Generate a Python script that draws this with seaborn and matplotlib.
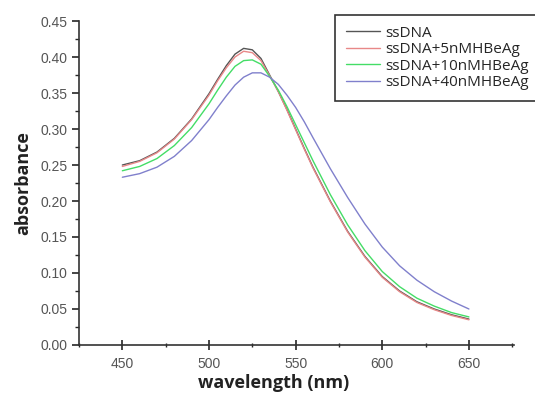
import numpy as np
import pandas as pd
import matplotlib
matplotlib.use("Agg")
import matplotlib.pyplot as plt
from matplotlib.ticker import MultipleLocator, FormatStrFormatter
import seaborn as sns

# -----------------------------
# Data
# -----------------------------

wavelength = [450, 460, 470, 480, 490, 500, 505, 510, 515, 520, 525, 530, 535,
              540, 545, 550, 555, 560, 570, 580, 590, 600, 610, 620, 630, 640, 650]

ssdna = [0.250, 0.256, 0.268, 0.287, 0.314, 0.349, 0.369, 0.388, 0.404, 0.412, 0.410,
         0.398, 0.375, 0.352, 0.327, 0.300, 0.273, 0.247, 0.200, 0.158, 0.123, 0.095,
         0.075, 0.060, 0.050, 0.042, 0.036]
ssdna_5 = [0.248, 0.255, 0.267, 0.286, 0.313, 0.347, 0.367, 0.385, 0.400, 0.408, 0.406,
           0.395, 0.374, 0.352, 0.326, 0.299, 0.272, 0.246, 0.199, 0.157, 0.122, 0.094,
           0.074, 0.059, 0.049, 0.041, 0.035]
ssdna_10 = [0.242, 0.248, 0.259, 0.277, 0.302, 0.335, 0.354, 0.372, 0.387, 0.395, 0.396,
            0.390, 0.373, 0.354, 0.331, 0.306, 0.281, 0.256, 0.209, 0.167, 0.131, 0.102,
            0.081, 0.065, 0.054, 0.045, 0.039]
ssdna_40 = [0.233, 0.238, 0.247, 0.262, 0.284, 0.313, 0.330, 0.346, 0.361, 0.372, 0.378,
            0.378, 0.372, 0.362, 0.347, 0.330, 0.310, 0.288, 0.245, 0.205, 0.168, 0.136,
            0.110, 0.090, 0.074, 0.061, 0.050]

labels = ["ssDNA", "ssDNA+5nMHBeAg", "ssDNA+10nMHBeAg", "ssDNA+40nMHBeAg"]
colors = ["#555555", "#e88888", "#44dd66", "#8080cc"]

df = pd.DataFrame({
    "wavelength": wavelength * 4,
    "absorbance": ssdna + ssdna_5 + ssdna_10 + ssdna_40,
    "sample": np.repeat(labels, len(wavelength)),
})

# -----------------------------
# Plot
# -----------------------------

sns.set_style("ticks")
plt.rcParams["font.family"] = ["Liberation Sans", "DejaVu Sans"]

fig = plt.figure(figsize=(5.35, 3.95), dpi=100)
ax = fig.add_axes([0.1477, 0.1266, 0.8130, 0.8202])

sns.lineplot(data=df, x="wavelength", y="absorbance", hue="sample",
             palette=colors, linewidth=1.0, ax=ax)

ax.set_xlim(425, 676)
ax.set_ylim(0, 0.45)
ax.xaxis.set_major_locator(MultipleLocator(50))
ax.xaxis.set_minor_locator(MultipleLocator(25))
ax.yaxis.set_major_locator(MultipleLocator(0.05))
ax.yaxis.set_minor_locator(MultipleLocator(0.025))
ax.yaxis.set_major_formatter(FormatStrFormatter("%.2f"))

ax.tick_params(axis="x", which="major", direction="inout", length=7, width=1.2,
               labelsize=10, labelcolor="#555555", pad=5)
ax.tick_params(axis="x", which="minor", direction="inout", length=3, width=1.0)
ax.tick_params(axis="y", which="major", direction="out", length=5, width=1.2,
               labelsize=10, labelcolor="#555555")
ax.tick_params(axis="y", which="minor", direction="out", length=3, width=1.0)

for side in ["top", "right"]:
    ax.spines[side].set_visible(False)
for side in ["left", "bottom"]:
    ax.spines[side].set_linewidth(1.2)
    ax.spines[side].set_color("#333333")

ax.set_xlabel("wavelength (nm)", fontsize=13, fontweight="bold",
              family="Open Sans", color="#222222")
ax.xaxis.set_label_coords(0.448, -0.088)
ax.set_ylabel("absorbance", fontsize=13, fontweight="bold",
              family="Open Sans", color="#222222", labelpad=6)

leg = ax.legend(loc="upper left", bbox_to_anchor=(0.589, 1.0185), frameon=True,
                fancybox=False, edgecolor="black", handlelength=2.2,
                handletextpad=0.4, labelspacing=0.1, borderpad=0.7,
                borderaxespad=0, prop={"family": "Open Sans", "size": 11})
leg.get_frame().set_linewidth(1.2)
leg.set_title(None)

fig.savefig("out.png", dpi=100)
